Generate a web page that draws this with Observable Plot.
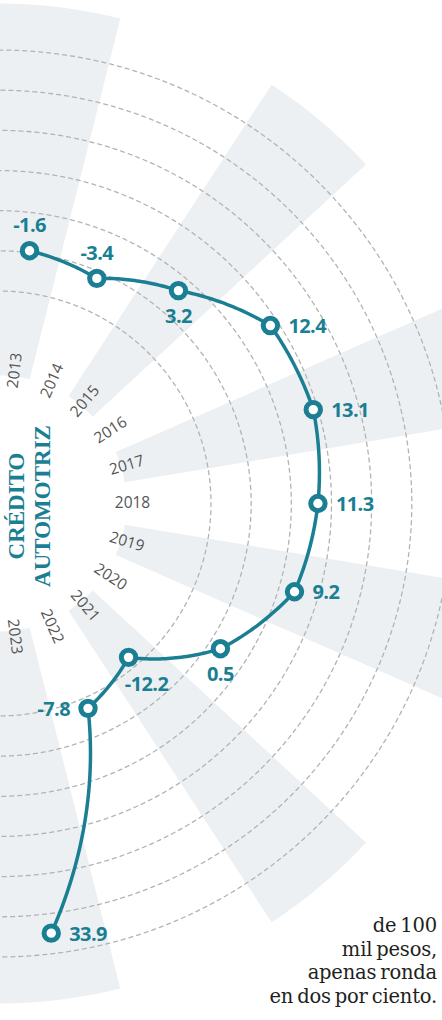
<!DOCTYPE html>
<html>
<head>
<meta charset="utf-8">
<script src="https://cdn.jsdelivr.net/npm/d3@7"></script>
<script src="https://cdn.jsdelivr.net/npm/@observablehq/plot@0.6"></script>
<style>
  html, body { margin: 0; padding: 0; background: #fff; }
  #wrap { position: relative; width: 442px; height: 1020px; overflow: hidden; }
  #chart svg { display: block; }
  #chart g[font-weight="700"] text { letter-spacing: -0.6px; }
  .title {
    position: absolute; left: -70.5px; top: 480px; width: 200px; height: 52px;
    transform: rotate(-90deg);
    font-family: "Liberation Serif", serif; font-weight: 700; font-size: 23px;
    line-height: 26px; text-align: center; color: #1b7f93; white-space: nowrap;
  }
  .note {
    position: absolute; right: 5px; top: 914px; text-align: right;
    font-family: "DejaVu Serif", serif; font-size: 19.5px; line-height: 23.7px;
    color: #231f20; letter-spacing: -0.2px; word-spacing: -2px; white-space: nowrap;
  }
</style>
</head>
<body>
<div id="wrap">
  <div id="chart"></div>
  <div class="title">CRÉDITO<br>AUTOMOTRIZ</div>
  <div class="note">de 100<br>mil pesos,<br>apenas ronda<br>en dos por ciento.</div>
</div>
<script>
// ---- data ----
const years = [2013, 2014, 2015, 2016, 2017, 2018, 2019, 2020, 2021, 2022, 2023];
const values = [-1.6, -3.4, 3.2, 12.4, 13.1, 11.3, 9.2, 0.5, -12.2, -7.8, 33.9];
const shadedYears = [2013, 2015, 2017, 2019, 2021, 2023];
const ringValues = [-10, -2, 6, 14, 22, 30, 38];
const labelPlacement = ["above", "above", "below", "right", "right", "right", "right", "below", "belowRight", "left", "right"];

// ---- layout ----
const W = 442, H = 1020;
const CX = -2, CY = 503;          // pixel centre of the polar layout
const STEP = 16.6;                 // degrees per year
const WEDGE_HALF = 7.1;            // half width of shaded sectors (deg)
const WEDGE_IN = 128, WEDGE_OUT = 500;
const LABEL_R = 134;
const TEAL = "#1b7f93";
const deg = Math.PI / 180;

// radial scale: value -> radius (px units of the x/y scales)
const rScale = d3.scaleLinear().domain([0, 10]).range([262.7, 312.9]);
const ang = i => 90 + (i - 5) * STEP;  // degrees, clockwise from "up"
const polar = (phi, r) => ({X: r * Math.sin(phi * deg), Y: r * Math.cos(phi * deg)});

// curve that interpolates between successive points in polar coordinates around (CX, CY)
function polarCurve(context) {
  let pts;
  return {
    areaStart() {}, areaEnd() {},
    lineStart() { pts = []; },
    point(x, y) { pts.push([+x, +y]); },
    lineEnd() {
      if (!pts.length) return;
      const pol = pts.map(([x, y]) => [Math.atan2(y - CY, x - CX), Math.hypot(x - CX, y - CY)]);
      context.moveTo(pts[0][0], pts[0][1]);
      for (let i = 1; i < pol.length; i++) {
        const [a0, r0] = pol[i - 1], [a1, r1] = pol[i];
        const n = Math.max(1, Math.ceil(Math.abs(a1 - a0) / (0.5 * deg)));
        for (let s = 1; s <= n; s++) {
          const t = s / n, a = a0 + (a1 - a0) * t, r = r0 + (r1 - r0) * t;
          context.lineTo(CX + r * Math.cos(a), CY + r * Math.sin(a));
        }
      }
    }
  };
}

const points = years.map((year, i) => ({year, value: values[i], place: labelPlacement[i], ...polar(ang(i), rScale(values[i]))}));

const wedges = shadedYears.flatMap(year => {
  const i = years.indexOf(year), a0 = ang(i) - WEDGE_HALF, a1 = ang(i) + WEDGE_HALF;
  return [[a0, WEDGE_OUT], [a1, WEDGE_OUT], [a1, WEDGE_IN], [a0, WEDGE_IN], [a0, WEDGE_OUT]]
    .map(([a, r]) => ({year, ...polar(a, r)}));
});

const rings = ringValues.flatMap(v => [-3, 90, 183].map(a => ({v, ...polar(a, rScale(v))})));

const yearLabels = years.map((year, i) => ({year, rot: ang(i) - 90, ...polar(ang(i), LABEL_R)}));

const valueText = (place, opts) => Plot.text(points.filter(d => d.place === place), {
  x: "X", y: "Y", text: d => String(d.value), fill: TEAL,
  fontFamily: "Open Sans", fontWeight: 700, fontSize: 20, ...opts
});

const chart = Plot.plot({
  width: W, height: H, margin: 0,
  x: {domain: [-CX, W - CX], range: [0, W], axis: null},
  y: {domain: [CY - H, CY], range: [H, 0], axis: null},
  style: {background: "transparent", overflow: "hidden"},
  marks: [
    Plot.line(wedges, {x: "X", y: "Y", z: "year", curve: polarCurve, fill: "#edf0f3", stroke: "none"}),
    Plot.line(rings, {x: "X", y: "Y", z: "v", curve: polarCurve, stroke: "#b3b3b3", strokeWidth: 1.3, strokeDasharray: "4,4"}),
    Plot.text(yearLabels, {x: "X", y: "Y", text: d => String(d.year), rotate: "rot", fill: "#555", fontFamily: "Open Sans", fontSize: 15.5}),
    Plot.line(points, {x: "X", y: "Y", curve: polarCurve, stroke: TEAL, strokeWidth: 3.5}),
    Plot.dot(points, {x: "X", y: "Y", r: 7.2, fill: "white", stroke: TEAL, strokeWidth: 5}),
    valueText("above", {dy: -25}),
    valueText("below", {dy: 26}),
    valueText("belowRight", {dy: 27, dx: 18}),
    valueText("right", {dx: 18, dy: 1, textAnchor: "start"}),
    valueText("left", {dx: -18, dy: 1, textAnchor: "end"})
  ]
});
document.getElementById("chart").appendChild(chart);
</script>
</body>
</html>
